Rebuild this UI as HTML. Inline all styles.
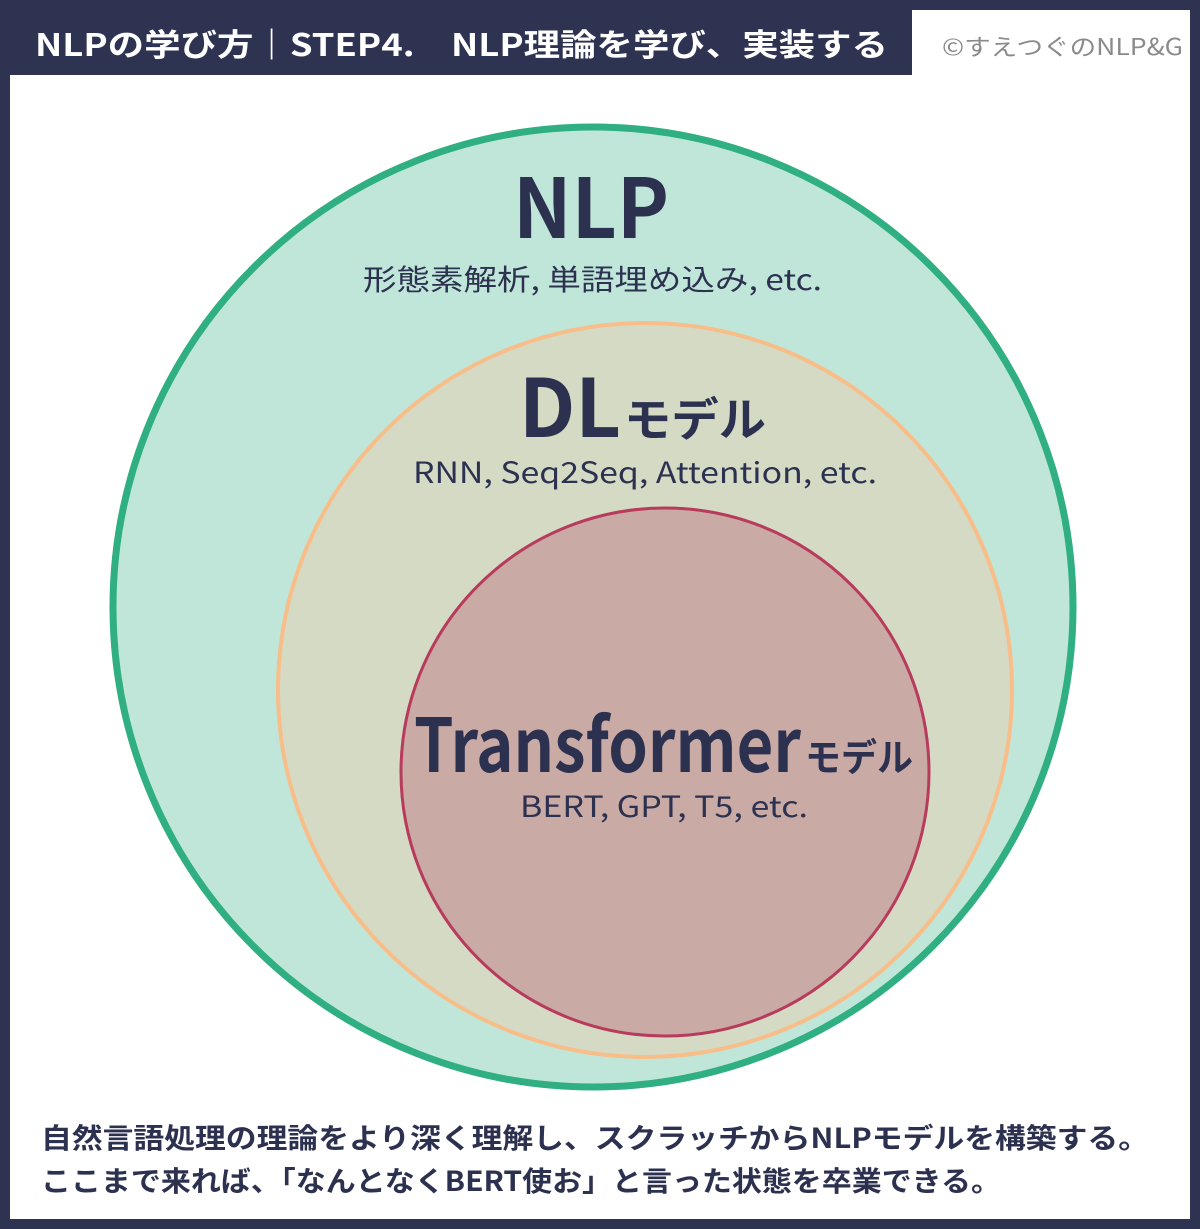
<!DOCTYPE html>
<html><head><meta charset="utf-8"><style>
body{margin:0;width:1200px;height:1229px;overflow:hidden;background:#fff}
svg{display:block}
</style></head><body>
<svg width="1200" height="1229" viewBox="0 0 1200 1229" xmlns="http://www.w3.org/2000/svg" font-family="'Noto Sans CJK JP','Liberation Sans',sans-serif">
<rect x="0" y="0" width="1200" height="1229" fill="#2f3352"/>
<rect x="10" y="75" width="1180" height="1144" fill="#fff"/>
<rect x="912" y="10" width="278" height="70" fill="#fff"/>
<text x="35" y="56" font-size="31" font-weight="700" fill="#fff" textLength="853" lengthAdjust="spacingAndGlyphs">NLPの学び方｜STEP4.　NLP理論を学び、実装する</text>
<text x="942" y="55" font-size="23" fill="#8a8a8a" textLength="241" lengthAdjust="spacingAndGlyphs">©すえつぐのNLP&amp;G</text>
<circle cx="593" cy="607" r="480" fill="#c0e6d9" stroke="#2faf82" stroke-width="7"/>
<circle cx="645" cy="690" r="367" fill="#d4dac4" stroke="#f8be8a" stroke-width="4"/>
<circle cx="665" cy="772" r="264" fill="#c9aaa4" stroke="#b83a5c" stroke-width="3"/>
<g fill="#2d3150">
<text x="513" y="238" font-size="82" font-weight="700" textLength="156" lengthAdjust="spacingAndGlyphs">NLP</text>
<text x="363" y="290" font-size="29" textLength="459" lengthAdjust="spacingAndGlyphs">形態素解析, 単語埋め込み, etc.</text>
<text x="519" y="437" font-size="80" font-weight="700" textLength="102" lengthAdjust="spacingAndGlyphs">DL</text>
<text x="624" y="436" font-size="46" font-weight="700" textLength="142" lengthAdjust="spacingAndGlyphs">モデル</text>
<text x="413" y="483" font-size="29" textLength="464" lengthAdjust="spacingAndGlyphs">RNN, Seq2Seq, Attention, etc.</text>
<text x="414" y="772" font-size="74" font-weight="700" textLength="387" lengthAdjust="spacingAndGlyphs">Transformer</text>
<text x="805" y="771" font-size="38" font-weight="700" textLength="108" lengthAdjust="spacingAndGlyphs">モデル</text>
<text x="520" y="817" font-size="29" textLength="288" lengthAdjust="spacingAndGlyphs">BERT, GPT, T5, etc.</text>
<text x="41" y="1148" font-size="28" font-weight="700" textLength="1108" lengthAdjust="spacingAndGlyphs">自然言語処理の理論をより深く理解し、スクラッチからNLPモデルを構築する。</text>
<text x="41" y="1191" font-size="28" font-weight="700" textLength="960" lengthAdjust="spacingAndGlyphs">ここまで来れば、「なんとなくBERT使お」と言った状態を卒業できる。</text>
</g>
</svg>
</body></html>
